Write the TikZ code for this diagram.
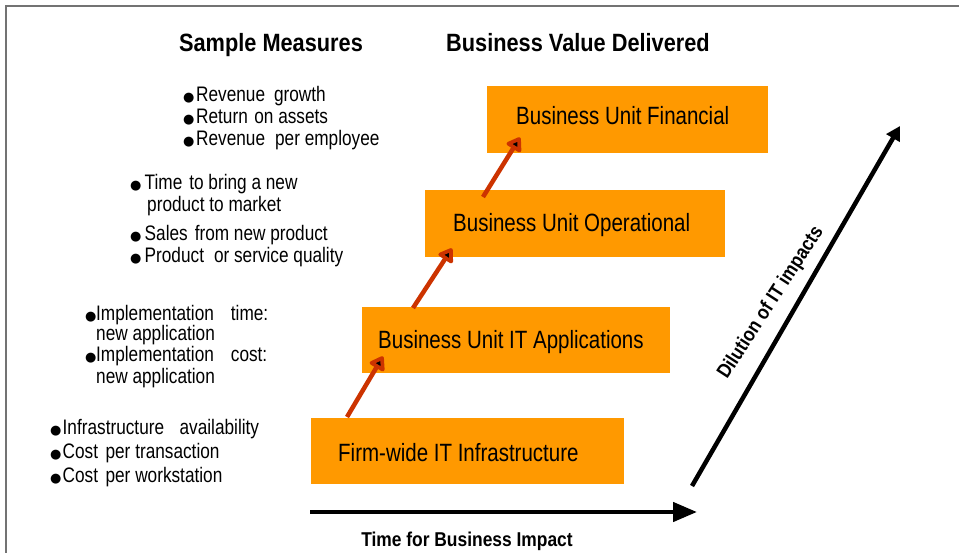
\documentclass[tikz,border=0pt]{standalone}
\usepackage{fontspec}
\setmainfont{Liberation Sans}
\newfontfamily\narrowf[FakeStretch=0.82]{Liberation Sans}
\newfontfamily\narrowbf[FakeStretch=0.87]{Liberation Sans Bold}
\newfontfamily\symf{DejaVu Sans}
\usetikzlibrary{arrows.meta,calc}
\definecolor{boxorange}{HTML}{FF9900}
\definecolor{arrowred}{HTML}{CC3300}
\newcommand\bulletmark[1]{\makebox[#1][l]{\symf\fontsize{13}{13}\selectfont ●}}
\begin{document}
\begin{tikzpicture}[x=1pt,y=-1pt,
  frameline/.style={draw=black!55, line width=1.5pt},
  valuebox/.style={fill=boxorange, draw=none, inner sep=0pt, anchor=north west},
  boxtext/.style={anchor=base west, inner sep=0pt, font=\narrowf\fontsize{25}{25}\selectfont},
  measure/.style={anchor=base west, inner sep=0pt, font=\narrowf\fontsize{21}{21}\selectfont},
  heading/.style={anchor=base, inner sep=0pt, font=\narrowbf\fontsize{25}{25}\selectfont},
  axislabel/.style={inner sep=0pt, font=\narrowbf\fontsize{20}{20}\selectfont},
  steparrow/.style={draw=arrowred, line width=4.5pt,
    -{Triangle[length=15pt,width=19pt,line width=4.5pt,fill=black,round]}},
  axisarrow/.style={draw=black, line width=4.5pt}
]
\useasboundingbox (0,0) rectangle (959,553);
\fill[white] (0,0) rectangle (959,553);
% frame
\draw[frameline] (959,6) -- (6,6) -- (6,553);

% headings
\node[heading] (h1) at (271,52) {Sample Measures};
\node[heading] (h2) at (578,52) {Business Value Delivered};

% boxes
\node[valuebox, minimum width=281pt, minimum height=67pt] (b1) at (487,86) {};
\node[valuebox, minimum width=300pt, minimum height=67pt] (b2) at (425,190) {};
\node[valuebox, minimum width=308pt, minimum height=66pt] (b3) at (362,307) {};
\node[valuebox, minimum width=313pt, minimum height=66pt] (b4) at (311,418) {};

\node[boxtext] (t1) at (516,125) {Business Unit Financial};
\node[boxtext] (t2) at (453,232) {Business Unit Operational};
\node[boxtext] (t3) at (378,348.5) {Business Unit IT Applications};
\node[boxtext] (t4) at (338,461) {Firm-wide IT Infrastructure};

% red step arrows
\coordinate (s1) at ($(b4.north west)+(36,-1)$);
\coordinate (e1) at ($(b3.south west)+(21,-17)$);
\coordinate (s2) at ($(b3.north west)+(51,1)$);
\coordinate (e2) at ($(b2.south west)+(27,-9)$);
\coordinate (s3) at ($(b2.north west)+(58,7)$);
\coordinate (e3) at ($(b1.south west)+(33,-16)$);
\draw[steparrow] (s1) -- (e1);
\draw[steparrow] (s2) -- (e2);
\draw[steparrow] (s3) -- (e3);

% measures group 1
\node[measure] (m11) at (183,102) {\bulletmark{13pt}Revenue\hspace{9pt}growth};
\node[measure] (m12) at (183,124) {\bulletmark{13pt}Return\hspace{6.5pt}on assets};
\node[measure] (m13) at (183,146) {\bulletmark{13pt}Revenue\hspace{10pt}per employee};
% group 2
\node[measure] (m21) at (130,190) {\bulletmark{14.5pt}Time\hspace{7pt}to bring a new};
\node[measure] (m22) at (147,212) {product to market};
\node[measure] (m23) at (130,241) {\bulletmark{14.5pt}Sales\hspace{7pt}from new product};
\node[measure] (m24) at (130,263) {\bulletmark{14.5pt}Product\hspace{10pt}or service quality};
% group 3
\node[measure] (m31) at (85,321) {\bulletmark{11pt}Implementation\hspace{17pt}time:};
\node[measure] (m32) at (96,341) {new application};
\node[measure] (m33) at (85,362) {\bulletmark{11pt}Implementation\hspace{17pt}cost:};
\node[measure] (m34) at (96,384) {new application};
% group 4
\node[measure] (m41) at (50,435) {\bulletmark{12.5pt}Infrastructure\hspace{15.5pt}availability};
\node[measure] (m42) at (50,458) {\bulletmark{12.5pt}Cost\hspace{7.5pt}per transaction};
\node[measure] (m43) at (50,482) {\bulletmark{12.5pt}Cost\hspace{7.5pt}per workstation};

% axes
\coordinate (hx0) at (310,512);
\coordinate (hx1) at (697,512);
\draw[axisarrow, -{Triangle[length=24pt,width=19pt]}] (hx0) -- (hx1);
\node[axislabel, anchor=base] (lx) at (467,546) {Time for Business Impact};

\coordinate (dx0) at (692,486);
\coordinate (dx1) at (900,126);
\draw[axisarrow, -{Triangle[length=14pt,width=15pt]}] (dx0) -- (dx1);
\node[axislabel, rotate=57] (ld) at (771,303) {Dilution of IT impacts};
\end{tikzpicture}
\end{document}
